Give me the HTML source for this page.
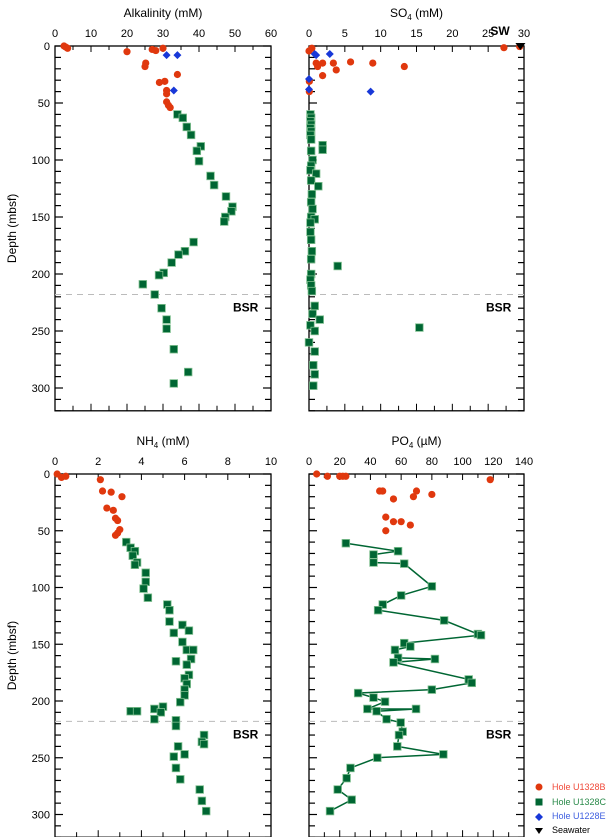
<!DOCTYPE html>
<html><head><meta charset="utf-8"><style>
html,body{margin:0;padding:0;background:#fff;width:609px;height:837px;overflow:hidden}
svg{display:block;font-family:"Liberation Sans",sans-serif}
</style></head><body>
<svg id="s" width="609" height="837" viewBox="0 0 609 837" xmlns="http://www.w3.org/2000/svg"></svg>
<script>
const S=document.getElementById('s');let h='';
const R='#e0380e',G='#006633',B='#1838d8';
function panel(p){
 const {x0,x1,y0,k,xmax,xstep,xminor,title,sub,ylab,lab}=p;
 const yb=y0+320*k, X=u=>x0+(x1-x0)*u/xmax, Y=d=>y0+d*k;
 p.X=X;p.Y=Y;
 h+=`<rect x="${x0}" y="${y0}" width="${x1-x0}" height="${yb-y0}" fill="none" stroke="#000" stroke-width="1.3"/>`;
 for(let u=0;u<=xmax+1e-9;u+=xminor){const x=X(u);const maj=Math.abs(u/xstep-Math.round(u/xstep))<1e-6;
  h+=`<line x1="${x}" y1="${y0}" x2="${x}" y2="${y0+(maj?6:4)}" stroke="#000"/><line x1="${x}" y1="${yb}" x2="${x}" y2="${yb-(maj?7:5)}" stroke="#000"/>`;
  if(maj&&lab!==false) h+=`<text x="${x}" y="${y0-9}" font-size="11" text-anchor="middle">${+u.toFixed(0)}</text>`;}
 for(let d=0;d<=320;d+=10){const y=Y(d);const maj=d%50==0;
  h+=`<line x1="${x0}" y1="${y}" x2="${x0+(maj?8:6)}" y2="${y}" stroke="${d%25==0&&!maj?'#999':'#000'}" stroke-width="1.2"/><line x1="${x1}" y1="${y}" x2="${x1-(maj?8:6)}" y2="${y}" stroke="#000" stroke-width="1.2"/>`;
  if(maj&&ylab) h+=`<text x="${x0-5}" y="${y+4}" font-size="11" text-anchor="end">${d}</text>`;}
 h+=`<text x="${(x0+x1)/2}" y="${y0-29}" font-size="12" text-anchor="middle">${title}</text>`;
 h+=`<line x1="${x0}" y1="${Y(218)}" x2="${x1+2}" y2="${Y(218)}" stroke="#bbb" stroke-dasharray="6,5"/>`;
 h+=`<text x="${x1-38}" y="${Y(218)+17}" font-size="12" font-weight="bold">BSR</text>`;
 if(ylab) h+=`<text transform="translate(16,${Y(160)}) rotate(-90)" font-size="12" text-anchor="middle">Depth (mbsf)</text>`;
}
function c(p,a){a.forEach(([u,d])=>h+=`<circle cx="${p.X(u)}" cy="${p.Y(d)}" r="3.6" fill="${R}"/>`)}
function sq(p,a){a.forEach(([u,d])=>h+=`<rect x="${p.X(u)-3.8}" y="${p.Y(d)-3.8}" width="7.6" height="7.6" fill="${G}" stroke="#7fbf8f" stroke-width="0.8"/>`)}
function dm(p,a){a.forEach(([u,d])=>{const x=p.X(u),y=p.Y(d);h+=`<polygon points="${x},${y-4} ${x+4},${y} ${x},${y+4} ${x-4},${y}" fill="${B}"/>`})}
const A={x0:55,x1:271,y0:46,k:1.14,xmax:60,xstep:10,xminor:5,title:'Alkalinity (mM)',ylab:true};
const Sb={x0:309,x1:524,y0:46,k:1.14,xmax:30,xstep:5,xminor:2.5,title:'SO<tspan font-size="8" dy="3">4</tspan><tspan dy="-3"> (mM)</tspan>',ylab:false};
const N={x0:55,x1:271,y0:474,k:1.135,xmax:10,xstep:2,xminor:1,title:'NH<tspan font-size="8" dy="3">4</tspan><tspan dy="-3"> (mM)</tspan>',ylab:true};
const P={x0:309,x1:524,y0:474,k:1.135,xmax:140,xstep:20,xminor:10,title:'PO<tspan font-size="8" dy="3">4</tspan><tspan dy="-3"> (µM)</tspan>',ylab:false};
[A,Sb,N,P].forEach(panel);
sq(A,[[36.6,71],[37.8,78],[34,60],[35.5,63],[40.5,88],[39.4,92],[40,101],[43.2,114],[44.2,122],[47.5,132],[49.3,141],[49,145],[47.3,150],[47,154],[38.5,172],[36.1,180],[34.3,183],[32.4,190],[30.2,199],[28.9,201],[24.4,209],[27.7,218],[29.6,230],[31,240],[31,248],[33,266],[37,286],[33,296]]);
c(A,[[2.5,0],[3,1],[3.5,2],[20,5],[27,3],[28,4],[30,2],[25.2,15],[25,18],[34,25],[30.5,31],[29,32],[31,39],[31,42],[31,49],[31.5,52],[32,54]]);
dm(A,[[31,8],[34,8],[33,39]]);
sq(Sb,[[0.2,60],[0.3,63],[0.2,66],[0.3,69],[0.2,72],[0.3,75],[0.2,78],[0.3,82],[1.9,87],[1.9,91],[0.3,92],[0.5,100],[0.3,105],[0.2,109],[1,112],[0.3,118],[1.3,123],[0.4,130],[0.3,137],[0.5,143],[0.3,150],[0.8,152],[0.2,155],[0.2,163],[0.3,170],[0.4,180],[0.3,187],[4,193],[0.3,200],[0.2,205],[0.3,210],[0.4,215],[0.8,228],[0.5,235],[1.5,240],[0.2,245],[15.4,247],[0.8,250],[0,260],[0.8,268],[0.6,280],[0.8,288],[0.6,298]]);
c(Sb,[[0,4.4],[0.4,2],[27.2,1.5],[29.4,0.5],[1,15],[1.2,18],[1.9,15],[3.4,15],[5.8,14],[8.9,15],[13.3,18],[3.8,21],[1.9,26],[0.05,31],[0.05,40]]);
dm(Sb,[[0.8,7],[1,8],[2.9,7],[0,29],[0,38],[8.6,40]]);
{const x=Sb.X(29.5),y=Sb.Y(0);h+=`<polygon points="${x-5},${y-3} ${x+5},${y-3} ${x},${y+4}" fill="#000"/><text x="${x-30}" y="${y-11}" font-size="12" font-weight="bold">SW</text>`;}
sq(N,[[3.3,60],[3.5,65],[3.7,68],[3.6,72],[3.8,78],[3.7,80],[4.2,87],[4.2,95],[4.1,101],[4.3,109],[5.2,115],[5.3,120],[5.3,130],[5.9,133],[5.5,140],[6.2,138],[5.9,148],[6.1,155],[6.4,155],[6.3,163],[6.1,168],[5.6,165],[6.2,177],[6,180],[6.1,185],[6,190],[6,195],[5.8,201],[3.5,209],[3.8,209],[4.6,207],[5,205],[4.9,210],[4.6,216],[5.6,217],[5.6,222],[6.9,230],[6.8,236],[5.7,240],[6.9,238],[5.5,249],[6,247],[5.6,259],[5.8,269],[6.7,278],[6.8,288],[7,297]]);
c(N,[[0.1,0],[0.3,3],[0.5,2],[2.1,5],[2.2,15],[2.6,16],[3.1,20],[2.4,30],[2.7,32],[2.8,39],[2.9,41],[3,49],[2.9,52],[2.8,54]]);
const pl=[[24,61],[58,68],[42,71],[42,78],[62,79],[80,99],[60,107],[48,115],[45,120],[88,129],[110,141],[112,142],[62,149],[66,152],[56,155],[58,162],[82,163],[55,166],[104,181],[106,184],[80,190],[32,193],[42,197],[49.5,200.6],[38,207],[69.7,207],[44,209],[50.5,216],[59.7,219],[61,227],[58.6,230],[57.5,240],[87.5,247],[44.5,250],[27,259],[24.5,268],[18.7,278],[27.8,287],[13.7,297]];
h+=`<polyline points="${pl.map(([u,d])=>P.X(u)+','+P.Y(d)).join(' ')}" fill="none" stroke="${G}" stroke-width="1.5"/>`;
sq(P,pl);
c(P,[[5,0],[12,2],[20,2],[22,2],[24,2],[118,5],[46,15],[48,15],[70,15],[80,18],[68,20],[55,22],[50,38],[55,42],[50,50],[66,45],[60,42]]);
h+=`<circle cx="539" cy="787" r="3.5" fill="${R}"/><text x="552" y="790" font-size="9" fill="#f04a3a">Hole U1328B</text>`;
h+=`<rect x="535.5" y="798.5" width="7" height="7" fill="${G}"/><text x="552" y="805" font-size="9" fill="#2a8a4a">Hole U1328C</text>`;
h+=`<polygon points="539,813 543,817 539,821 535,817" fill="${B}"/><text x="552" y="819" font-size="9" fill="#4060e0">Hole U1228E</text>`;
h+=`<polygon points="535,828 543,828 539,834" fill="#000"/><text x="552" y="833" font-size="9">Seawater</text>`;
S.innerHTML=h;
</script>
</body></html>
